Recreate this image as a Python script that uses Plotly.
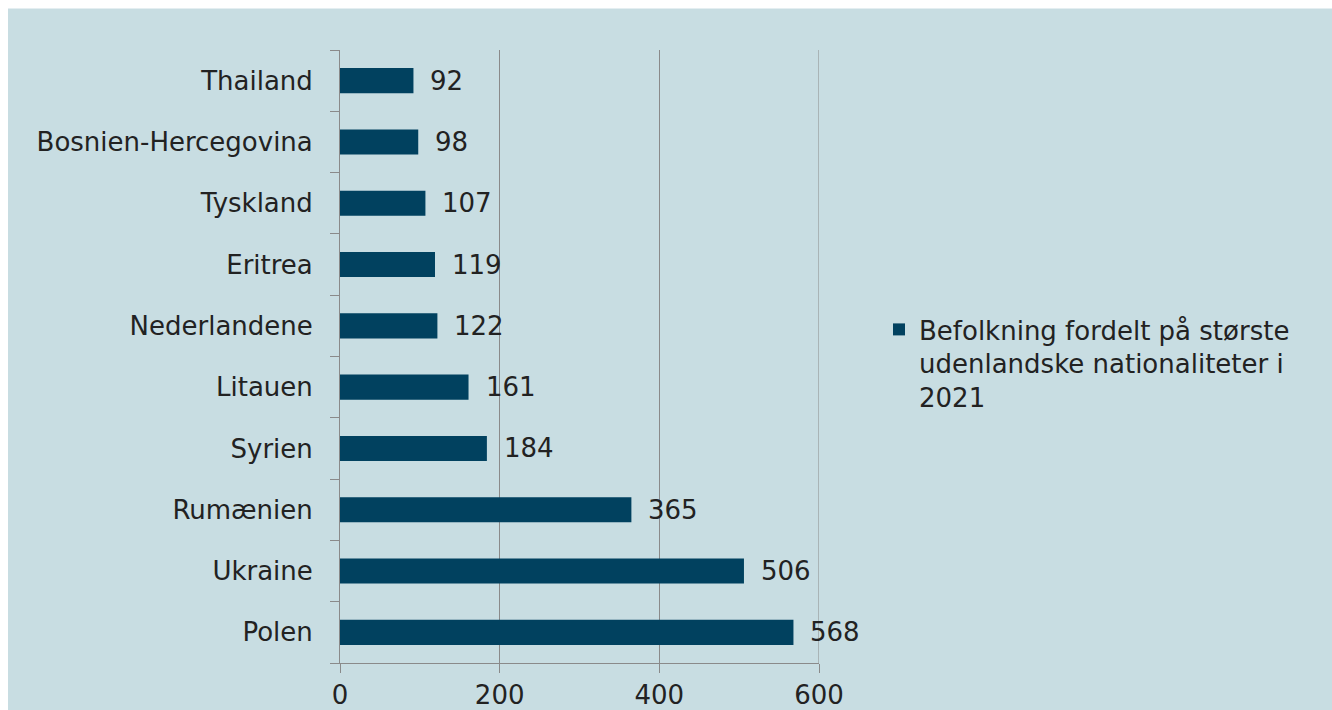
import plotly.graph_objects as go

countries = ["Polen", "Ukraine", "Rumænien", "Syrien", "Litauen", "Nederlandene",
             "Eritrea", "Tyskland", "Bosnien-Hercegovina", "Thailand"]
values = [568, 506, 365, 184, 161, 122, 119, 107, 98, 92]
series_name = "Befolkning fordelt på største<br>udenlandske nationaliteter i<br>2021"
x_ticks = [0, 200, 400, 600]

BG = "#c8dde2"
BAR = "#01415f"
GRID = "#8a8a8a"
FONT = "DejaVu Sans"
TXT = "#222222"
FS = 26

W, H = 1332, 710
L, R, T, B = 340, 513, 50, 47
PW, PH = W - L - R, H - T - B

fig = go.Figure()
fig.add_trace(go.Bar(
    y=countries, x=values, orientation="h", name=series_name,
    marker=dict(color=BAR, line=dict(width=0)), width=0.41,
    showlegend=True,
))

for c, v in zip(countries, values):
    fig.add_annotation(x=v, y=c, text=str(v), showarrow=False, xanchor="left",
                       xshift=15, font=dict(family=FONT, size=FS, color=TXT))

# gridline at the right end of the value axis (plotly omits it at the edge)
fig.add_shape(type="line", xref="x", yref="paper", x0=x_ticks[-1], x1=x_ticks[-1], y0=0, y1=1,
              line=dict(color=GRID, width=1), layer="below")

# white page border (top and left) around the light-blue chart panel
def px_x(p):
    return (p - L) / PW

def px_y(p):
    return 1 - (p - T) / PH

fig.add_shape(type="rect", xref="paper", yref="paper", x0=px_x(0), x1=px_x(W), y0=px_y(0), y1=px_y(8.5),
              fillcolor="white", line=dict(width=0), layer="above")
fig.add_shape(type="rect", xref="paper", yref="paper", x0=px_x(0), x1=px_x(8), y0=px_y(0), y1=px_y(H),
              fillcolor="white", line=dict(width=0), layer="above")

fig.update_layout(
    width=W, height=H,
    margin=dict(l=L, r=R, t=T, b=B, autoexpand=False),
    paper_bgcolor=BG, plot_bgcolor=BG,
    font=dict(family=FONT, size=FS, color=TXT),
    showlegend=True,
    legend=dict(xref="container", yref="container", x=879 / W, y=1 - 306 / H,
                xanchor="left", yanchor="top", valign="top",
                bgcolor="rgba(0,0,0,0)", font=dict(family=FONT, size=FS, color=TXT)),
)
fig.update_xaxes(range=[0, 600], tickvals=x_ticks, showgrid=True, gridcolor=GRID, gridwidth=1,
                 showline=True, linecolor=GRID, linewidth=1, ticks="outside", ticklen=9,
                 tickcolor=GRID, zeroline=False, ticklabelstandoff=0, automargin=False)
fig.update_yaxes(categoryorder="array", categoryarray=countries, showline=True, linecolor=GRID,
                 linewidth=1, ticks="outside", ticklen=9, tickcolor=GRID, tickson="boundaries",
                 showgrid=False, ticklabelstandoff=21, automargin=False)

fig.write_html("out.html", config={"displayModeBar": False},
               post_script="document.body.style.margin='0';"
                           "document.documentElement.style.overflow='hidden';")
